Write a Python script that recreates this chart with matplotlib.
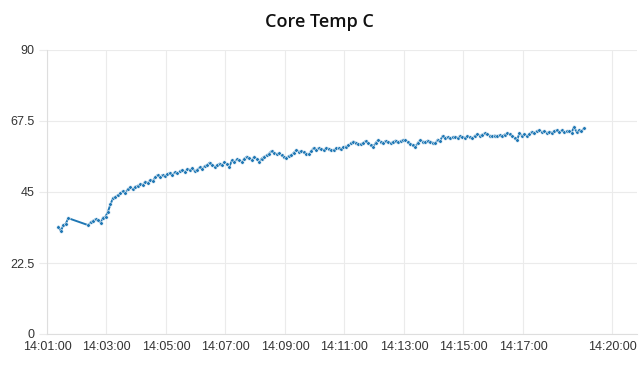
import matplotlib
matplotlib.use("Agg")
import matplotlib.pyplot as plt
import pandas as pd

title = "Core Temp C"
day = "2020-01-01 "

# first burst of samples (5 s apart)
seg1_start = "14:01:23"
seg1_values = [34.0, 32.6, 34.5, 35.0, 36.7]

# main run of samples (5 s apart)
seg2_start = "14:02:23"
seg2_values = [
    34.5, 35.4, 35.9, 36.4, 36.1, 35.3, 36.9, 37.2, 38.8, 41.1, 43.0, 43.5,
    44.0, 44.6, 45.3, 44.8, 45.9, 46.6, 45.8, 46.7, 47.0, 47.4, 47.2, 48.3,
    47.8, 48.8, 48.4, 49.6, 50.4, 49.8, 50.4, 50.0, 50.7, 51.1, 50.5, 51.3,
    50.9, 51.5, 52.0, 51.4, 52.2, 52.0, 52.5, 51.6, 52.1, 52.8, 52.4, 53.2,
    53.6, 54.3, 53.7, 53.0, 53.5, 54.0, 53.6, 54.4, 53.8, 53.0, 55.1, 54.6,
    55.3, 55.1, 54.5, 55.6, 56.2, 55.7, 55.1, 56.2, 55.5, 54.6, 55.6, 56.2,
    56.6, 57.2, 58.0, 57.4, 56.9, 57.3, 56.6, 56.2, 55.9, 56.4, 56.7, 57.5,
    58.3, 57.8, 58.0, 57.6, 57.2, 56.9, 58.0, 59.0, 58.4, 58.9, 58.6, 58.2,
    59.0, 58.7, 58.3, 58.3, 58.8, 59.0, 58.5, 59.2, 59.4, 59.8, 60.4, 61.0,
    60.6, 60.1, 60.1, 60.6, 61.2, 60.5, 59.8, 59.4, 60.6, 61.5, 61.0, 60.6,
    61.2, 60.8, 60.4, 60.9, 61.3, 60.7, 61.1, 61.5, 61.5, 60.9, 60.3, 59.8,
    59.4, 60.6, 61.5, 61.0, 60.8, 61.3, 61.0, 60.6, 60.4, 61.6, 61.2, 62.8,
    62.2, 62.4, 62.0, 62.3, 62.5, 62.1, 62.8, 62.4, 62.2, 62.7, 62.3, 62.0,
    62.8, 63.4, 62.9, 63.2, 63.6, 63.3, 62.9, 62.6, 62.9, 62.7, 63.0, 62.7,
    63.2, 63.6, 63.3, 62.8, 62.2, 61.5, 63.6, 62.9, 63.3, 62.8, 63.4, 64.1,
    63.7, 64.3, 64.6, 64.0, 64.2, 63.8, 64.1, 63.8, 64.3, 64.6, 64.1, 64.5,
    63.9, 64.2, 64.3, 63.8, 65.7, 64.0, 64.6, 64.3, 65.2,
]
sample_step = "5s"

x_tick_labels = ["14:01:00", "14:03:00", "14:05:00", "14:07:00", "14:09:00",
                 "14:11:00", "14:13:00", "14:15:00", "14:17:00", "14:20:00"]
y_ticks = [0, 22.5, 45, 67.5, 90]
y_tick_labels = ["0", "22.5", "45", "67.5", "90"]
x_start = "14:01:00"
x_end = "14:20:50"

t1 = pd.date_range(day + seg1_start, periods=len(seg1_values), freq=sample_step)
t2 = pd.date_range(day + seg2_start, periods=len(seg2_values), freq=sample_step)
times = t1.append(t2)
values = seg1_values + seg2_values

fig = plt.figure(figsize=(6.39, 3.66), dpi=100)
ax = fig.add_axes([47/639, 1 - 334/366, 590/639, 284/366])

color = "#1f77b4"
ax.plot(times, values, color=color, lw=1.4, marker="o", ms=2.6,
        mfc=color, mec="white", mew=0.4, zorder=3)

ax.set_ylim(0, 90)
ax.set_xlim(pd.Timestamp(day + x_start), pd.Timestamp(day + x_end))
ax.set_yticks(y_ticks)
ax.set_yticklabels(y_tick_labels)
ax.set_xticks([pd.Timestamp(day + s) for s in x_tick_labels])
ax.set_xticklabels(x_tick_labels)

grid_c = "#ebebeb"
ax.grid(True, color=grid_c, lw=0.8, zorder=0)
for s in ["top", "right"]:
    ax.spines[s].set_visible(False)
for s in ["left", "bottom"]:
    ax.spines[s].set_color("#dedede")
    ax.spines[s].set_linewidth(0.8)
ax.tick_params(axis="y", length=6, width=0.8, color=grid_c, labelsize=9,
               labelcolor="#333333", pad=3)
ax.tick_params(axis="x", length=0, labelsize=9, labelcolor="#333333", pad=5)
for lab in ax.get_xticklabels() + ax.get_yticklabels():
    lab.set_fontfamily("Liberation Sans")

fig.text(0.5, 1 - 22/366, title, ha="center", va="center",
         fontsize=13, family="Open Sans", weight="semibold", color="#111111")

fig.savefig("out.png", dpi=100)
